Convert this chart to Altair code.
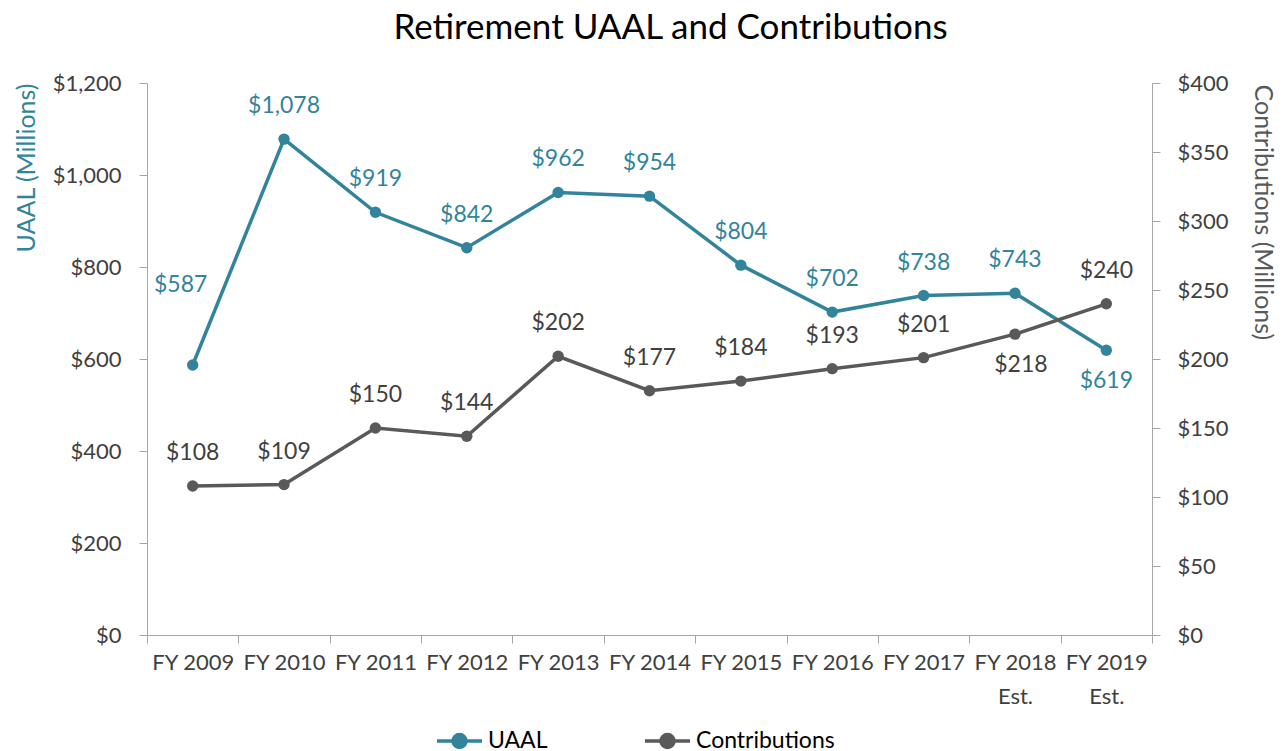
import altair as alt
import pandas as pd

years = ["FY 2009", "FY 2010", "FY 2011", "FY 2012", "FY 2013", "FY 2014",
         "FY 2015", "FY 2016", "FY 2017", "FY 2018\nEst.", "FY 2019\nEst."]
uaal = [587, 1078, 919, 842, 962, 954, 804, 702, 738, 743, 619]
contrib = [108, 109, 150, 144, 202, 177, 184, 193, 201, 218, 240]
series_names = ["UAAL", "Contributions"]
series_colors = ["#31849B", "#595959"]

df = pd.DataFrame(
    [{"year": y, "series": "UAAL", "value": v} for y, v in zip(years, uaal)]
    + [{"year": y, "series": "Contributions", "value": v} for y, v in zip(years, contrib)]
)

FONT = "Lato"
AXIS_GRAY = "#A6A6A6"
TXT = "#404040"
LBL = 23

x = alt.X("year:N", sort=years,
          scale=alt.Scale(type="band", paddingInner=0, paddingOuter=0, round=False),
          axis=alt.Axis(title=None, labelAngle=0, tickBand="extent",
                        labelExpr="split(datum.label, '\\n')",
                        labelLineHeight=34, labelFontSize=22, labelColor=TXT,
                        labelPadding=9, tickSize=8, domainColor=AXIS_GRAY,
                        tickColor=AXIS_GRAY, labelBaseline="top"))

color = alt.Color("series:N",
                  scale=alt.Scale(domain=series_names, range=series_colors),
                  legend=alt.Legend(title=None, orient="none", direction="horizontal",
                                    legendX=288, legendY=633, padding=0,
                                    symbolType="M-1,0L1,0M-0.29,0A0.29,0.29,0,1,1,0.29,0A0.29,0.29,0,1,1,-0.29,0Z",
                                    symbolSize=2025, symbolStrokeWidth=3.5,
                                    labelFontSize=23, labelColor="black",
                                    labelOffset=4, columnPadding=90))

y_u = alt.Y("value:Q", scale=alt.Scale(domain=[0, 1200]),
            axis=alt.Axis(orient="left", title="UAAL (Millions)",
                          values=[0, 200, 400, 600, 800, 1000, 1200],
                          format="$,.0f", grid=False, labelFontSize=22,
                          labelColor=TXT, titleFontSize=25, titleColor="#31849B",
                          titleFontWeight="normal", titlePadding=13,
                          titleAnchor="end",
                          labelPadding=18, tickSize=8,
                          domainColor=AXIS_GRAY, tickColor=AXIS_GRAY))
y_c = alt.Y("value:Q", scale=alt.Scale(domain=[0, 400]),
            axis=alt.Axis(orient="right", title="Contributions (Millions)",
                          values=[0, 50, 100, 150, 200, 250, 300, 350, 400],
                          format="$,.0f", grid=False, labelFontSize=22,
                          labelColor=TXT, titleFontSize=25, titleColor="#595959",
                          titleFontWeight="normal", titlePadding=21,
                          titleAngle=90, titleY=1, titleAlign="left",
                          labelPadding=17, tickSize=8,
                          domainColor=AXIS_GRAY, tickColor=AXIS_GRAY))

text = alt.Text("value:Q", format="$,.0f")

base_u = alt.Chart(df).transform_filter("datum.series == 'UAAL'")
line_u = base_u.mark_line(strokeWidth=3.5).encode(x=x, y=y_u, color=color)
pt_u = base_u.mark_point(filled=True, size=130, opacity=1).encode(x=x, y=y_u, color=color)
lab_u = base_u.transform_filter(
    "datum.year != 'FY 2009' && datum.year != 'FY 2019\\nEst.'"
).mark_text(dy=-33, fontSize=LBL, color="#31849B").encode(x=x, y=y_u, text=text)
lab_u_first = base_u.transform_filter("datum.year == 'FY 2009'").mark_text(
    dy=-80, dx=-12, fontSize=LBL, color="#31849B").encode(x=x, y=y_u, text=text)
lab_u_last = base_u.transform_filter("datum.year == 'FY 2019\\nEst.'").mark_text(
    dy=31, fontSize=LBL, color="#31849B").encode(x=x, y=y_u, text=text)
left = alt.layer(line_u, pt_u, lab_u, lab_u_first, lab_u_last)

base_c = alt.Chart(df).transform_filter("datum.series == 'Contributions'")
line_c = base_c.mark_line(strokeWidth=3.5).encode(x=x, y=y_c, color=color)
pt_c = base_c.mark_point(filled=True, size=130, opacity=1).encode(x=x, y=y_c, color=color)
lab_c = base_c.transform_filter("datum.year != 'FY 2018\\nEst.'").mark_text(
    dy=-33, fontSize=LBL, color=TXT).encode(x=x, y=y_c, text=text)
lab_c_below = base_c.transform_filter("datum.year == 'FY 2018\\nEst.'").mark_text(
    dy=31, dx=6, fontSize=LBL, color=TXT).encode(x=x, y=y_c, text=text)
right = alt.layer(line_c, pt_c, lab_c, lab_c_below)

chart = alt.layer(left, right).resolve_scale(y="independent").properties(
    width=1005, height=552,
    title=alt.TitleParams("Retirement UAAL and Contributions", fontSize=35,
                          font=FONT, fontWeight="normal", color="black",
                          anchor="middle", dx=21, offset=26),
    autosize=alt.AutoSizeParams(type="none"),
    padding={"left": 139, "top": 75, "right": 128, "bottom": 118},
).configure(font=FONT).configure_view(stroke=None)

chart.save("out.html", embed_options={"renderer": "svg", "actions": False})
